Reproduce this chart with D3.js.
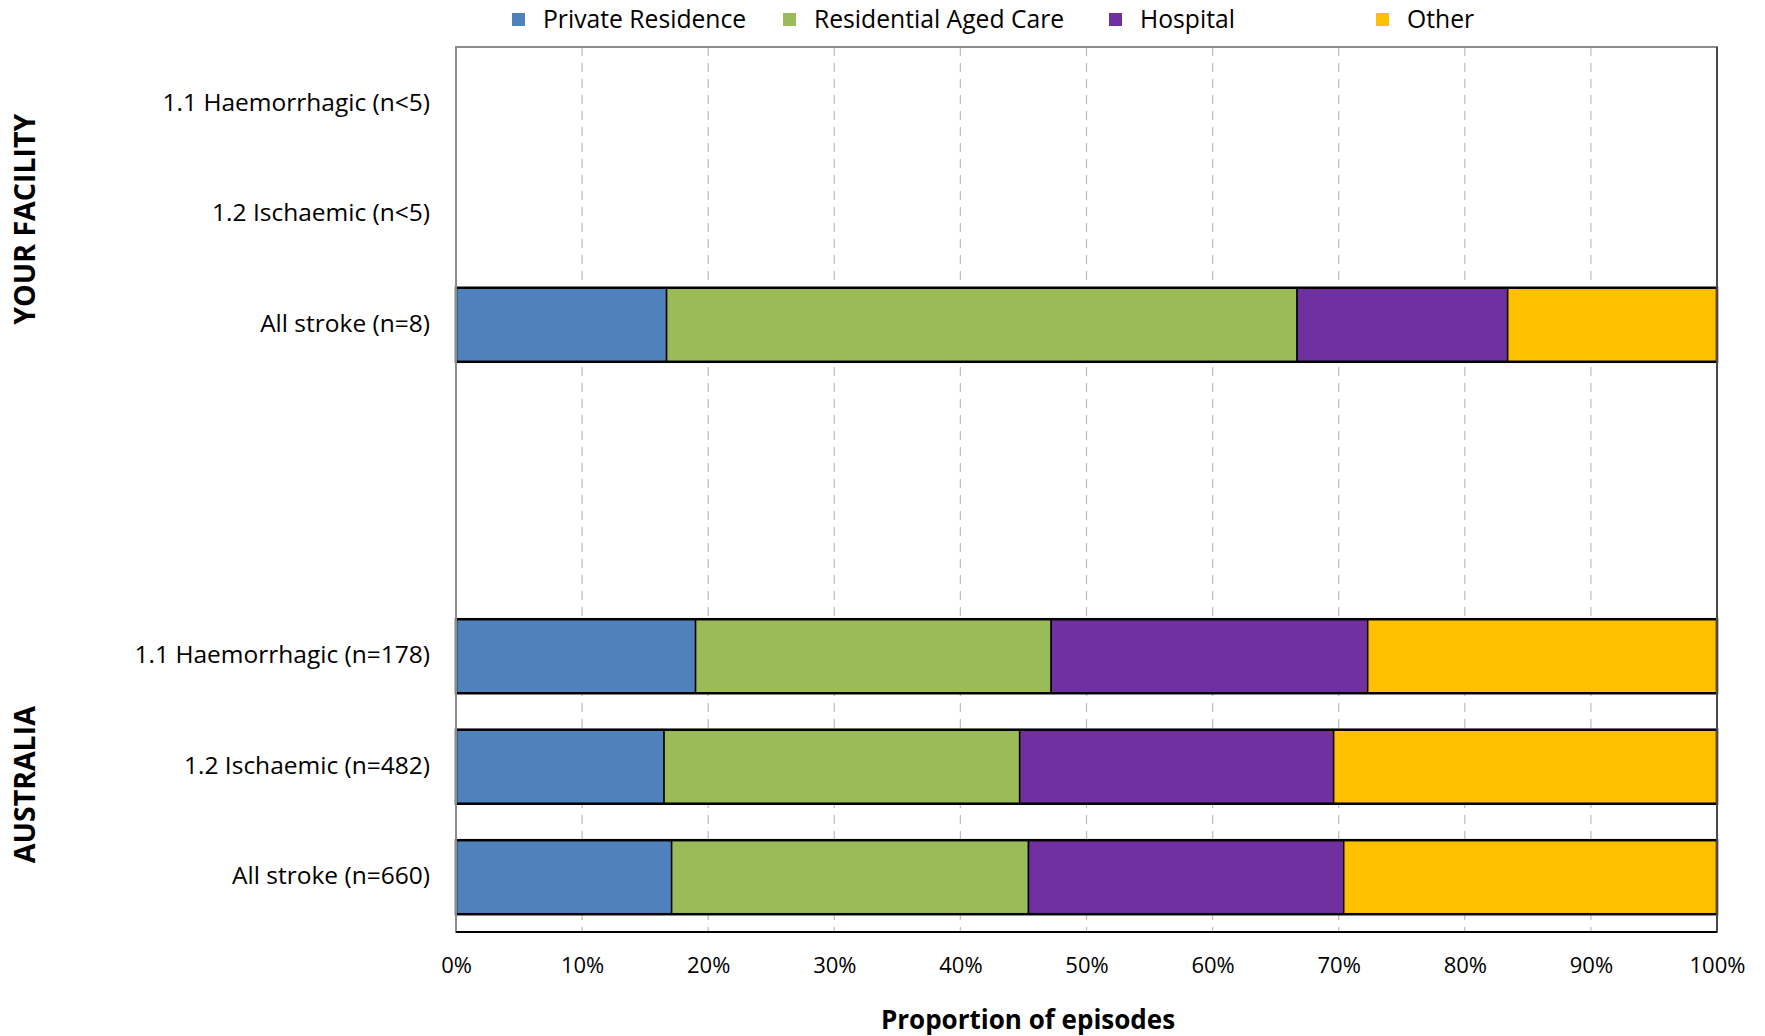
<!DOCTYPE html>
<html><head><meta charset="utf-8">
<script src="https://cdn.jsdelivr.net/npm/d3@7"></script>
<style>
html,body{margin:0;padding:0;background:#fff;}
text{font-family:"Open Sans",Lato,sans-serif;fill:#000;}
</style></head>
<body><svg id="c" width="1765" height="1036"></svg>
<script>
const rows = ["F_H","F_I","F_A","gap1","gap2","A_H","A_I","A_A"];
const rowLabels = ["1.1 Haemorrhagic (n<5)","1.2 Ischaemic (n<5)","All stroke (n=8)","","","1.1 Haemorrhagic (n=178)","1.2 Ischaemic (n=482)","All stroke (n=660)"];
const series = ["Private Residence","Residential Aged Care","Hospital","Other"];
const colors = ["#4F81BD","#9BBB59","#7030A0","#FFC000"];
const privateResidence = [null,null,16.7,null,null,19.0,16.5,17.1];
const residentialAgedCare = [null,null,50.0,null,null,28.2,28.2,28.3];
const hospital = [null,null,16.7,null,null,25.1,24.9,25.0];
const other = [null,null,16.6,null,null,27.7,30.4,29.6];
const xTicks = [0,10,20,30,40,50,60,70,80,90,100];
const groups = [{name:"YOUR FACILITY", rows:["F_H","F_I","F_A"]},{name:"AUSTRALIA", rows:["A_H","A_I","A_A"]}];

const svg = d3.select("#c");
const L=456, R=1717, T=47, B=932;
const x = d3.scaleLinear().domain([0,100]).range([L,R]);
const y = d3.scaleBand().domain(rows).range([T,B]).paddingInner(0.33).paddingOuter(0.17);

// grid
svg.append("g").selectAll("line").data(xTicks.slice(1,-1)).join("line")
  .attr("x1",d=>x(d)).attr("x2",d=>x(d)).attr("y1",T).attr("y2",B)
  .attr("stroke","#c0c0c0").attr("stroke-width",1.3).attr("stroke-dasharray","9,7");

// bars
const data = rows.map((r,i)=>({row:r, vals:[privateResidence[i],residentialAgedCare[i],hospital[i],other[i]]})).filter(d=>d.vals[0]!==null);
const stacked = [];
data.forEach(d=>{let c=0; d.vals.forEach((v,k)=>{stacked.push({row:d.row,k,x0:c,x1:c+v}); c+=v;});});
svg.append("g").selectAll("rect").data(stacked).join("rect")
  .attr("x",d=>x(d.x0)).attr("width",d=>x(d.x1)-x(d.x0))
  .attr("y",d=>y(d.row)+1).attr("height",y.bandwidth())
  .attr("fill",d=>colors[d.k]).attr("stroke","#000").attr("stroke-width",1.5);
svg.append("g").selectAll("rect").data(data).join("rect")
  .attr("x",x(0)).attr("width",x(100)-x(0)).attr("y",d=>y(d.row)+1).attr("height",y.bandwidth())
  .attr("fill","none").attr("stroke","#000").attr("stroke-width",2.5);

// plot frame
svg.append("rect").attr("x",L).attr("y",T).attr("width",R-L).attr("height",B-T)
  .attr("fill","none").attr("stroke","#8c8c8c").attr("stroke-width",2);
svg.append("line").attr("x1",L).attr("x2",R).attr("y1",B).attr("y2",B).attr("stroke","#000").attr("stroke-width",2);
svg.append("line").attr("x1",R).attr("x2",R).attr("y1",T).attr("y2",B).attr("stroke","#333").attr("stroke-width",1.5);

// x axis
const xa = svg.append("g").attr("transform",`translate(0,${B})`)
  .call(d3.axisBottom(x).tickValues(xTicks).tickFormat(d=>d+"%").tickSize(0).tickPadding(25));
xa.select(".domain").remove();
xa.selectAll("text").attr("font-size",22).attr("font-family","'Open Sans',sans-serif").attr("fill","#000");

svg.append("text").attr("x",1028).attr("y",1029).attr("text-anchor","middle")
  .attr("font-size",26).attr("font-weight","bold").text("Proportion of episodes");

// y labels
const ya = svg.append("g").attr("transform",`translate(${L},0)`)
  .call(d3.axisLeft(y).tickFormat((d,i)=>rowLabels[rows.indexOf(d)]).tickSize(0).tickPadding(26));
ya.select(".domain").remove();
ya.selectAll("text").attr("font-size",24.5).attr("font-family","'Open Sans',sans-serif").attr("fill","#000");

// group labels
const gOff=[6,19];
groups.forEach((g,i)=>{
  const cy = (y(g.rows[0]) + y(g.rows[2]) + y.bandwidth())/2 + gOff[i];
  svg.append("text").attr("transform",`translate(35,${cy}) rotate(-90)`).attr("text-anchor","middle")
    .attr("font-size",28.5).attr("font-weight","bold").text(g.name);
});

// legend
const legX = [512,783,1109,1376];
const lg = svg.append("g").selectAll("g").data(series).join("g").attr("transform",(d,i)=>`translate(${legX[i]},19)`);
lg.append("rect").attr("x",0).attr("y",-6).attr("width",13).attr("height",13).attr("fill",(d,i)=>colors[i]);
lg.append("text").attr("x",31).attr("y",0).attr("dy","0.35em").attr("font-size",24.7).text(d=>d);
</script></body></html>
